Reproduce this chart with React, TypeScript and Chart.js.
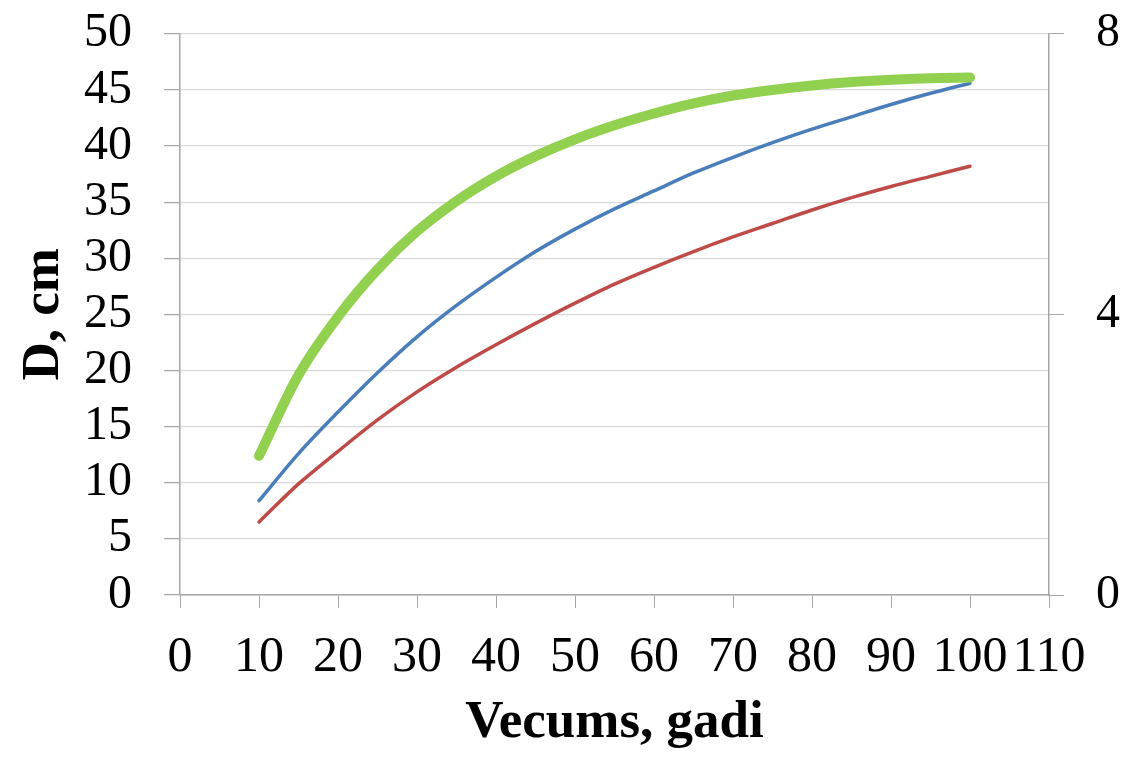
import React, { useEffect, useRef } from "react";
import { Chart, registerables } from "chart.js";

Chart.register(...registerables);

const ages = [10, 15, 20, 25, 30, 35, 40, 45, 50, 55, 60, 65, 70, 75, 80, 85, 90, 95, 100];
const greenD = [12.4, 19.6, 24.8, 29.0, 32.4, 35.1, 37.3, 39.1, 40.6, 41.85, 42.9, 43.8, 44.5, 45.0, 45.4, 45.7, 45.9, 46.05, 46.1];
const blueD = [8.4, 12.6, 16.3, 19.8, 23.0, 25.8, 28.3, 30.6, 32.6, 34.4, 36.0, 37.6, 39.0, 40.3, 41.5, 42.6, 43.7, 44.7, 45.6];
const redD = [6.5, 9.9, 12.8, 15.6, 18.1, 20.3, 22.3, 24.2, 26.0, 27.7, 29.2, 30.6, 31.9, 33.1, 34.3, 35.4, 36.4, 37.3, 38.2];

const xTitle = "Vecums, gadi";
const yTitle = "D, cm";

const toPts = (ys: number[]) => ages.map((x, i) => ({ x, y: ys[i] }));

const SHIFT = 27;

export default function App() {
  const ref = useRef<HTMLCanvasElement | null>(null);
  useEffect(() => {
    if (!ref.current) return;
    const serif = "'Liberation Serif', 'Times New Roman', serif";
    const axisColor = "#a6a6a6";
    const line = { pointRadius: 0, cubicInterpolationMode: "monotone", borderCapStyle: "round", borderJoinStyle: "round", yAxisID: "y" };
    const chart = new Chart(ref.current, {
      type: "line",
      data: {
        datasets: [
          { ...line, data: toPts(greenD), borderColor: "#92d050", borderWidth: 10 },
          { ...line, data: toPts(blueD), borderColor: "#4a7ebb", borderWidth: 3.5 },
          { ...line, data: toPts(redD), borderColor: "#be4b48", borderWidth: 3.5 },
        ],
      } as any,
      options: {
        animation: false,
        responsive: false,
        layout: { padding: { top: 6, left: 0, right: 0, bottom: 0 } },
        plugins: { legend: { display: false }, tooltip: { enabled: false } },
        scales: {
          x: {
            type: "linear",
            min: 0,
            max: 110,
            ticks: { stepSize: 10, color: "#000", font: { family: serif, size: 50 }, padding: 20, maxRotation: 0, autoSkip: false },
            grid: { drawOnChartArea: false, drawTicks: true, tickLength: 13, tickColor: axisColor },
            border: { color: axisColor, width: 1.5 },
            title: { display: true, text: xTitle, color: "#000", font: { family: serif, size: 53, weight: "bold" }, padding: { bottom: 2, top: 0 } },
            afterFit: (s: any) => { s.height = 162; },
          },
          y: {
            position: "left",
            min: 0,
            max: 50,
            ticks: { stepSize: 5, color: "#000", font: { family: serif, size: 48 }, padding: 32, autoSkip: false },
            grid: { color: "#d9d9d9", lineWidth: 1.2, tickLength: 16, tickColor: axisColor },
            border: { color: axisColor, width: 1.5 },
            title: { display: true, text: yTitle, color: "#000", font: { family: serif, size: 53, weight: "bold" }, padding: { top: 13, bottom: 0 } },
            afterFit: (s: any) => { s.width = 180; },
          },
          y2: {
            position: "right",
            min: 0,
            max: 8,
            ticks: { stepSize: 4, color: "#000", font: { family: serif, size: 48 }, padding: 32, autoSkip: false },
            grid: { drawOnChartArea: false, tickLength: 15, tickColor: axisColor },
            border: { color: axisColor, width: 1.5 },
            afterFit: (s: any) => { s.width = 74; },
          },
        },
      } as any,
    });
    return () => chart.destroy();
  }, []);
  return (
    <div style={{ position: "fixed", left: 0, top: 0, width: 1123, height: 757, background: "#fff", overflow: "hidden" }}>
      <canvas
        ref={ref}
        width={1123}
        height={757 + SHIFT}
        style={{ position: "absolute", left: 0, top: -SHIFT, width: 1123, height: 757 + SHIFT }}
      />
    </div>
  );
}
